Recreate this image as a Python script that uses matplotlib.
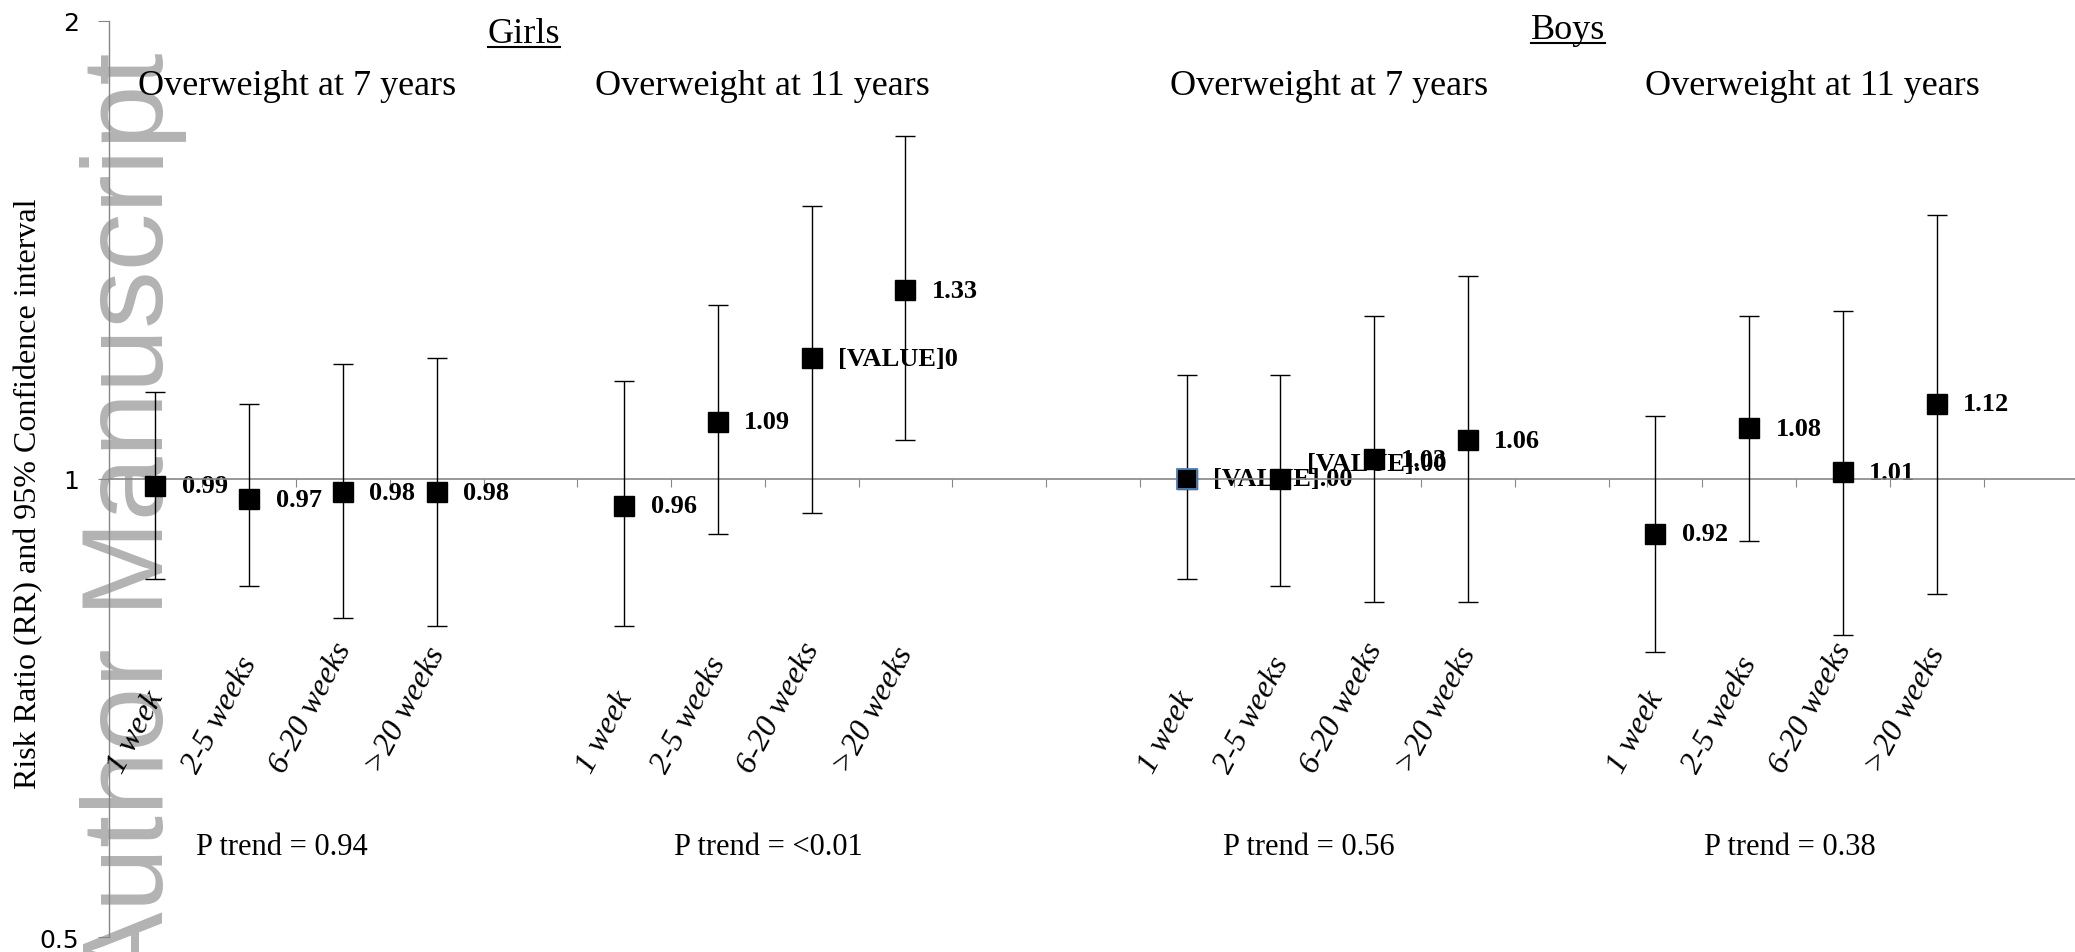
import numpy as np
import matplotlib.pyplot as plt
from matplotlib.lines import Line2D
from matplotlib.ticker import NullLocator
import matplotlib.transforms as mtransforms

# ---- data ----
durations = ['1 week', '2-5 weeks', '6-20 weeks', '>20 weeks']
panel_titles = ['Overweight at 7 years', 'Overweight at 11 years',
                'Overweight at 7 years', 'Overweight at 11 years']
sexes = ['Girls', 'Boys']
p_trend = ['P trend = 0.94', 'P trend = <0.01', 'P trend = 0.56', 'P trend = 0.38']

girls7_rr = [0.99, 0.97, 0.98, 0.98]
girls7_lo = [0.86, 0.85, 0.81, 0.80]
girls7_hi = [1.14, 1.12, 1.19, 1.20]

girls11_rr = [0.96, 1.09, 1.20, 1.33]
girls11_lo = [0.80, 0.92, 0.95, 1.06]
girls11_hi = [1.16, 1.30, 1.51, 1.68]

boys7_rr = [1.00, 1.00, 1.03, 1.06]
boys7_lo = [0.86, 0.85, 0.83, 0.83]
boys7_hi = [1.17, 1.17, 1.28, 1.36]

boys11_rr = [0.92, 1.08, 1.01, 1.12]
boys11_lo = [0.77, 0.91, 0.79, 0.84]
boys11_hi = [1.10, 1.28, 1.29, 1.49]

# data labels exactly as printed (Excel placeholders included)
girls7_lab = ['0.99', '0.97', '0.98', '0.98']
girls11_lab = ['0.96', '1.09', '[VALUE]0', '1.33']
boys7_lab = ['[VALUE].00', '[VALUE].00', '1.03', '1.06']
boys11_lab = ['0.92', '1.08', '1.01', '1.12']

serif = 'Liberation Serif'
grey = '#868686'

fig = plt.figure(figsize=(20.75, 9.53), dpi=100)
ax = fig.add_axes([0.0523, 0.0157, 0.9488, 0.9615])
ax.patch.set_alpha(0)

# watermark behind everything
fig.text(0.0786, 0.945, 'Author Manuscript', rotation=90, rotation_mode='anchor',
         ha='right', va='baseline', fontsize=83, color='#b3b3b3',
         family='Liberation Sans', zorder=-1)

panels = [(girls7_rr, girls7_lo, girls7_hi, girls7_lab),
          (girls11_rr, girls11_lo, girls11_hi, girls11_lab),
          (boys7_rr, boys7_lo, boys7_hi, boys7_lab),
          (boys11_rr, boys11_lo, boys11_hi, boys11_lab)]
start_slot = [0, 5, 11, 16]   # 21 category slots along the axis

trans = mtransforms.blended_transform_factory(ax.transData, ax.transAxes)

for k, ((rr, lo, hi, lab), s) in enumerate(zip(panels, start_slot)):
    x = np.arange(s, s + 4) + 0.5
    rr = np.array(rr)
    yerr = [rr - np.array(lo), np.array(hi) - rr]
    ax.errorbar(x, rr, yerr=yerr, fmt='s', color='black', ms=14, mew=1,
                ecolor='black', elinewidth=1.0, capsize=7.5, capthick=2.6, zorder=3)
    for j, (xi, yi, t) in enumerate(zip(x, rr, lab)):
        dy = 11 if (k == 2 and j == 1) else 0   # Excel nudged this one up
        ax.annotate(t, (xi, yi), xytext=(19, dy), textcoords='offset points',
                    ha='left', va='center', fontsize=19, fontweight='bold',
                    family=serif, zorder=2)
    for xi, d in zip(x, durations):
        ax.text(xi + 0.15, 0.174, d, transform=trans, rotation=62,
                ha='right', va='bottom', fontsize=23, fontstyle='italic', family=serif)

# boys 7y, 1 week marker has a blue outline in the original
ax.plot([start_slot[2] + 0.5], [boys7_rr[0]], 's', mfc='black', mec='#4f81bd',
        ms=14, mew=1.3, zorder=5)

for xc, t in zip([2.01, 6.97, 13.02, 18.17], panel_titles):
    ax.text(xc, 0.920, t, transform=trans, ha='center', va='baseline',
            fontsize=26, family=serif)
for xc, t in zip([1.85, 7.04, 12.8, 17.93], p_trend):
    ax.text(xc, 0.0906, t, transform=trans, ha='center', va='baseline',
            fontsize=22, family=serif)
sex_txt = []
for xc, yc, t in zip([4.43, 15.57], [0.977, 0.981], sexes):
    sex_txt.append(ax.text(xc, yc, t, transform=trans, ha='center', va='baseline',
                           fontsize=26, family=serif))

# axes styling
ax.set_yscale('log', base=2)
ax.set_ylim(0.5, 2)
ax.set_yticks([0.5, 1, 2])
ax.set_yticklabels(['0.5', '1', '2'], family='DejaVu Sans')
ax.yaxis.set_minor_locator(NullLocator())
ax.set_xlim(0, 21)
ax.set_xticks(np.arange(0, 22))
ax.set_xticklabels([])
ax.spines['top'].set_visible(False)
ax.spines['right'].set_visible(False)
ax.spines['bottom'].set_position(('data', 1))
ax.spines['bottom'].set_color(grey)
ax.spines['left'].set_color(grey)
ax.spines['bottom'].set_linewidth(1.2)
ax.spines['left'].set_linewidth(1.0)
ax.tick_params(axis='y', direction='out', length=8, color=grey, labelsize=18, pad=13)
ax.tick_params(axis='x', direction='out', length=6, color=grey)

ax.set_ylabel('Risk Ratio (RR) and 95% Confidence interval', fontsize=23, family=serif)
ax.yaxis.set_label_coords(-0.033, 0.485)

# underline Girls / Boys
fig.canvas.draw()
inv = fig.transFigure.inverted()
for t in sex_txt:
    bb = t.get_window_extent()
    x0, _ = inv.transform((bb.x0, bb.y0))
    x1, _ = inv.transform((bb.x1, bb.y0))
    yb = ax.transAxes.transform((0, t.get_position()[1]))[1]
    yl = inv.transform((0, yb - 5))[1]
    fig.add_artist(Line2D([x0, x1], [yl, yl], transform=fig.transFigure,
                          color='black', lw=1.5))

fig.savefig('out.png', dpi=100)
